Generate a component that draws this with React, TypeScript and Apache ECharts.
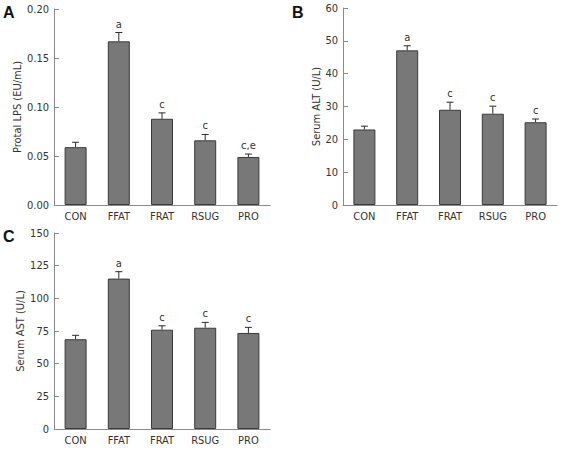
import React, { useEffect, useRef } from "react";
import * as echarts from "echarts";

const categories = ["CON", "FFAT", "FRAT", "RSUG", "PRO"];

const lpsValues = [0.059, 0.167, 0.088, 0.066, 0.049];
const lpsErrors = [0.005, 0.009, 0.006, 0.006, 0.003];
const lpsMarks = ["", "a", "c", "c", "c,e"];
const lpsTicks = { min: 0, max: 0.2, interval: 0.05 };

const altValues = [23.0, 47.1, 29.0, 27.8, 25.2];
const altErrors = [1.0, 1.4, 2.3, 2.3, 1.0];
const altMarks = ["", "a", "c", "c", "c"];
const altTicks = { min: 0, max: 60, interval: 10 };

const astValues = [68.7, 115.1, 76.0, 77.5, 73.5];
const astErrors = [3.0, 5.3, 3.0, 4.1, 4.3];
const astMarks = ["", "a", "c", "c", "c"];
const astTicks = { min: 0, max: 150, interval: 25 };

const FONT = "'DejaVu Sans Condensed', 'DejaVu Sans', sans-serif";
const AXIS_COLOR = "#8a8a8a";
const TEXT_COLOR = "#333333";

export default function App() {
  const ref = useRef<HTMLDivElement>(null);

  useEffect(() => {
    if (!ref.current) return;
    const chart = echarts.init(ref.current, null, { renderer: "svg" });

    const panels = [
      { values: lpsValues, errors: lpsErrors, marks: lpsMarks, ticks: lpsTicks, name: "Protal LPS (EU/mL)", gap: 17, grid: { left: 54, top: 9, width: 216, height: 196 }, fmt: (v: number) => v.toFixed(2) },
      { values: altValues, errors: altErrors, marks: altMarks, ticks: altTicks, name: "Serum ALT (U/L)", gap: 19, grid: { left: 343, top: 8, width: 214, height: 197 }, fmt: (v: number) => String(v) },
      { values: astValues, errors: astErrors, marks: astMarks, ticks: astTicks, name: "Serum AST (U/L)", gap: 17, grid: { left: 54, top: 233, width: 216, height: 196 }, fmt: (v: number) => String(v) },
    ];

    const grid: any[] = [];
    const xAxis: any[] = [];
    const yAxis: any[] = [];
    const series: any[] = [];

    panels.forEach((p, i) => {
      grid.push({ ...p.grid, containLabel: false });
      xAxis.push({
        type: "category",
        gridIndex: i,
        data: categories,
        axisLine: { lineStyle: { color: AXIS_COLOR, width: 1 } },
        axisTick: { show: false },
        axisLabel: { color: TEXT_COLOR, fontFamily: FONT, fontSize: 11, margin: 6 },
      });
      yAxis.push({
        type: "value",
        gridIndex: i,
        min: p.ticks.min,
        max: p.ticks.max,
        interval: p.ticks.interval,
        name: p.name,
        nameLocation: "middle",
        nameGap: p.gap,
        nameRotate: 90,
        nameTextStyle: { color: TEXT_COLOR, fontFamily: FONT, fontSize: 11 },
        axisLine: { show: true, lineStyle: { color: AXIS_COLOR, width: 1 } },
        axisTick: { show: true, inside: true, length: 5, lineStyle: { color: AXIS_COLOR } },
        splitLine: { show: false },
        axisLabel: { color: TEXT_COLOR, fontFamily: FONT, fontSize: 11, margin: 5, formatter: p.fmt },
      });
      series.push({
        type: "bar",
        xAxisIndex: i,
        yAxisIndex: i,
        data: p.values,
        barWidth: 22,
        itemStyle: { color: "#787878", borderColor: "#3a3a3a", borderWidth: 1 },
        z: 2,
      });
      const marks = p.marks;
      series.push({
        type: "custom",
        xAxisIndex: i,
        yAxisIndex: i,
        z: 3,
        data: p.values.map((v, k) => [k, v, p.errors[k]]),
        encode: { x: 0, y: 1 },
        renderItem: (params: any, api: any) => {
          const idx = api.value(0);
          const v = api.value(1);
          const e = api.value(2);
          const p0 = api.coord([idx, v]);
          const p1 = api.coord([idx, v + e]);
          const stroke = { stroke: "#2a2a2a", lineWidth: 1 };
          const children: any[] = [
            { type: "line", shape: { x1: p0[0], y1: p0[1], x2: p1[0], y2: p1[1] }, style: stroke },
            { type: "line", shape: { x1: p1[0] - 3.5, y1: p1[1], x2: p1[0] + 3.5, y2: p1[1] }, style: stroke },
          ];
          const label = marks[params.dataIndex];
          if (label) {
            children.push({
              type: "text",
              x: p1[0],
              y: p1[1] - 3,
              style: {
                text: label,
                fill: TEXT_COLOR,
                fontSize: 11,
                fontFamily: FONT,
                align: "center",
                verticalAlign: "bottom",
              },
            });
          }
          return { type: "group", children };
        },
      });
    });

    chart.setOption({
      animation: false,
      backgroundColor: "#ffffff",
      grid,
      xAxis,
      yAxis,
      series,
      graphic: [
        { type: "text", left: 3, top: 4, style: { text: "A", fontSize: 16, fontWeight: "bold", fontFamily: "'Liberation Sans', Arial, sans-serif", fill: "#111" } },
        { type: "text", left: 292, top: 4, style: { text: "B", fontSize: 16, fontWeight: "bold", fontFamily: "'Liberation Sans', Arial, sans-serif", fill: "#111" } },
        { type: "text", left: 3, top: 228, style: { text: "C", fontSize: 16, fontWeight: "bold", fontFamily: "'Liberation Sans', Arial, sans-serif", fill: "#111" } },
      ],
    });

    return () => chart.dispose();
  }, []);

  return (
    <div
      ref={ref}
      style={{ position: "fixed", left: 0, top: 0, width: 564, height: 450 }}
    />
  );
}
